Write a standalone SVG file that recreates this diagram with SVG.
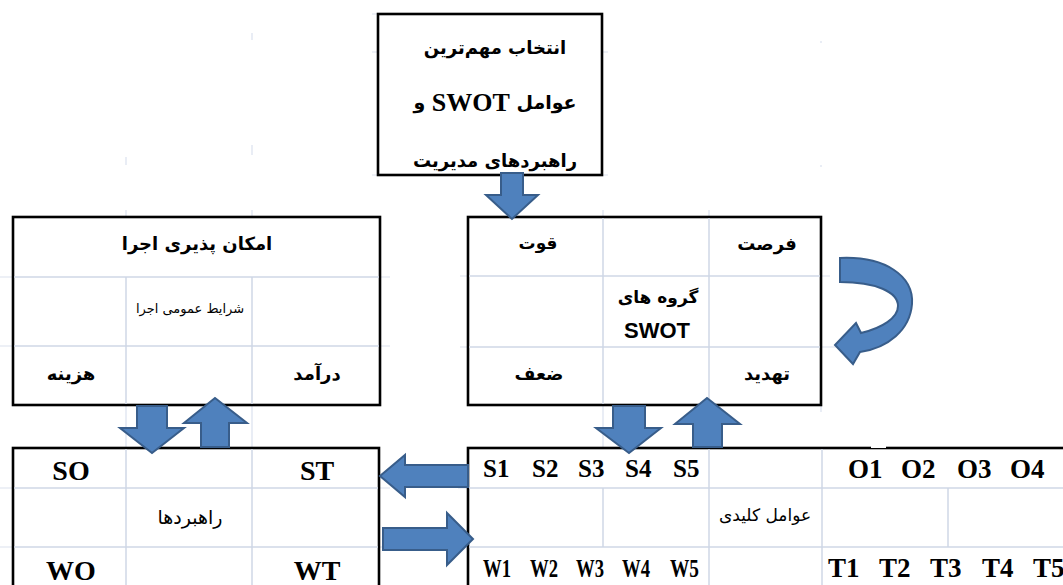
<svg xmlns="http://www.w3.org/2000/svg" width="1063" height="585" viewBox="0 0 1063 585">
<style>
.box{fill:#fff;stroke:#000;stroke-width:2.6}
.grid{stroke:#cfd7e6;stroke-width:1.5;fill:none}
.faint{stroke:#dbe2ee;stroke-width:1.2;fill:none}
.arr{fill:#4f81bd;stroke:#385d8a;stroke-width:2;stroke-linejoin:miter}
.fa{font-family:'DejaVu Sans','Noto Sans',sans-serif;font-weight:bold;fill:#000;text-anchor:middle;dominant-baseline:central}
.fan{font-family:'DejaVu Sans','Noto Sans',sans-serif;font-weight:normal;fill:#000;text-anchor:middle;dominant-baseline:central}
.lat{font-family:'Liberation Serif','Times New Roman',serif;font-weight:bold;fill:#000}
.w{font-family:'Liberation Serif','Times New Roman',serif;font-weight:bold;fill:#000;font-size:25px}
.cal{font-family:'Liberation Sans',Arial,sans-serif;font-weight:bold;fill:#000;text-anchor:middle;dominant-baseline:central}
</style>
<rect width="1063" height="585" fill="#fff"/>

<g id="background-grid">
<path class="faint" d="M252 33V40M252 145V155M126 157V165M821 41V43M821 165V167M372 14H378M372 52H378M372 175H378M602 52H608M602 175H608"/>
<path class="faint" d="M0 277H13M380 277H390M0 346H13M380 346H390M460 276H468M821 276H830M460 347H468M821 347H836"/>
<path class="faint" d="M126 210V217M252 210V217M603 210V217M709 210V217M126 405V448M252 405V448M603 405V448M709 405V448M821 405V412"/>
<path class="faint" d="M0 488H13M378 488H390M0 547H13M378 547H390M458 488H468M458 547H468"/>
</g>

<g id="node-top">
<rect class="box" x="378" y="14" width="224" height="161"/>
<text class="fa" x="495" y="47" font-size="18" direction="rtl">انتخاب مهم‌ترین</text>
<text class="fa" x="495" y="102" font-size="19" direction="rtl">عوامل <tspan class="lat" font-size="26">SWOT</tspan> و</text>
<text class="fa" x="495" y="160" font-size="18" direction="rtl">راهبردهای مدیریت</text>
</g>

<g id="node-feasibility">
<rect class="box" x="13" y="217" width="367" height="188"/>
<path class="grid" d="M14 277H379M14 346H379M126 277V404M252 277V404"/>
<text class="fa" x="197" y="243" font-size="18" direction="rtl">امکان پذیری اجرا</text>
<text class="fan" x="190" y="308" font-size="13" direction="rtl">شرایط عمومی اجرا</text>
<text class="fa" x="71" y="373" font-size="18" direction="rtl">هزینه</text>
<text class="fa" x="317" y="373" font-size="18" direction="rtl">درآمد</text>
</g>

<g id="node-swot-groups">
<rect class="box" x="468" y="217" width="353" height="188"/>
<path class="grid" d="M469 276H820M469 347H820M603 218V404M709 218V404"/>
<text class="fa" x="538" y="243" font-size="17" direction="rtl">قوت</text>
<text class="fa" x="767" y="243" font-size="18" direction="rtl">فرصت</text>
<text class="fa" x="658" y="297" font-size="17" direction="rtl">گروه های</text>
<text class="cal" x="657" y="330" font-size="22">SWOT</text>
<text class="fa" x="539" y="373" font-size="18" direction="rtl">ضعف</text>
<text class="fa" x="767" y="373" font-size="18" direction="rtl">تهدید</text>
</g>

<g id="node-strategies">
<rect class="box" x="13" y="448" width="366" height="200"/>
<path class="grid" d="M14 488H378M14 547H378M126 449V585M252 449V585"/>
<text class="lat" x="71" y="480" font-size="28" text-anchor="middle">SO</text>
<text class="lat" x="317" y="480" font-size="28" text-anchor="middle">ST</text>
<text class="fan" x="190" y="517" font-size="19" direction="rtl">راهبردها</text>
<text class="lat" x="71" y="580" font-size="28" text-anchor="middle">WO</text>
<text class="lat" x="317" y="580" font-size="28" text-anchor="middle">WT</text>
</g>

<g id="node-key-factors">
<rect class="box" x="468" y="448" width="700" height="200"/>
<path class="grid" d="M469 488H1063M469 547H1063M709 449V585M822 449V585M603 488V547M948 488V547"/>
<rect x="871" y="446" width="15" height="2" fill="#fff"/>
<text class="lat" y="477" font-size="25"><tspan x="483">S1</tspan><tspan x="532">S2</tspan><tspan x="578">S3</tspan><tspan x="625">S4</tspan><tspan x="673">S5</tspan></text>
<text class="lat" y="478" font-size="27"><tspan x="848">O1</tspan><tspan x="901">O2</tspan><tspan x="957">O3</tspan><tspan x="1010">O4</tspan></text>
<text class="fan" x="765" y="515" font-size="17" direction="rtl">عوامل کلیدی</text>
<text class="w" x="483" y="577" textLength="28" lengthAdjust="spacingAndGlyphs">W1</text>
<text class="w" x="530" y="577" textLength="28" lengthAdjust="spacingAndGlyphs">W2</text>
<text class="w" x="576" y="577" textLength="28" lengthAdjust="spacingAndGlyphs">W3</text>
<text class="w" x="622" y="577" textLength="28" lengthAdjust="spacingAndGlyphs">W4</text>
<text class="w" x="670" y="577" textLength="29" lengthAdjust="spacingAndGlyphs">W5</text>
<text class="lat" y="577" font-size="27"><tspan x="828">T1</tspan><tspan x="879">T2</tspan><tspan x="930">T3</tspan><tspan x="982">T4</tspan><tspan x="1033">T5</tspan></text>
</g>

<g id="connectors">
<polygon class="arr" points="501,173 523,173 523,195 538,195 512,219 486,195 501,195"/>
<path class="arr" d="M840 258C885 256 914 276 912 304C910 330 888 348 860 352L853 364L835 345L856 323L861 333C882 328 898 318 898 306C898 292 876 282 840 282Z"/>
<polygon class="arr" points="137,406 167,406 167,428 184,428 152,453 120,428 137,428"/>
<polygon class="arr" points="201,447 229,447 229,423 247,423 215,398 184,423 201,423"/>
<polygon class="arr" points="613,406 645,406 645,428 661,428 629,453 596,428 613,428"/>
<polygon class="arr" points="693,447 722,447 722,424 740,424 707,398 675,424 693,424"/>
<polygon class="arr" points="468,465 405,465 405,455 380,476 405,497 405,487 468,487"/>
<polygon class="arr" points="383,528 447,528 447,513 473,539 447,565 447,550 383,550"/>
</g>
</svg>
